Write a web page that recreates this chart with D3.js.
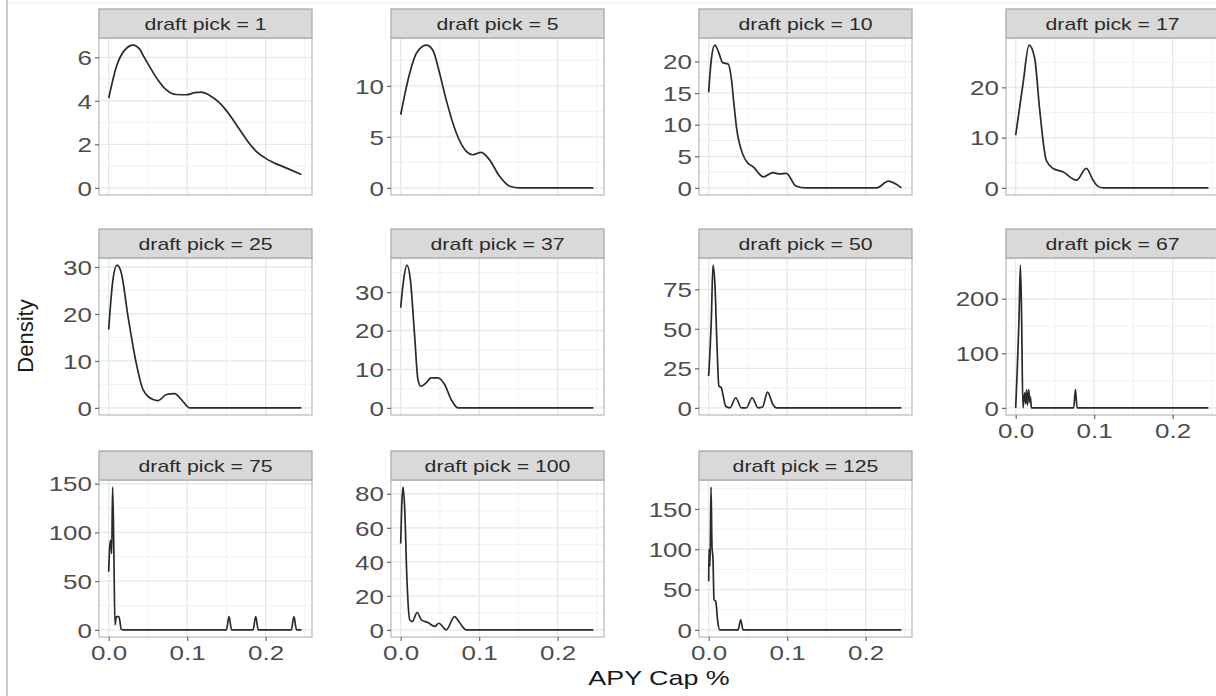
<!DOCTYPE html>
<html>
<head>
<meta charset="utf-8">
<script src="https://cdn.jsdelivr.net/npm/d3@7"></script>
<style>
  body { margin: 0; background: #fff; }
  svg { display: block; font-family: "Liberation Sans", Arial, Helvetica, sans-serif; }
</style>
</head>
<body>
<svg id="chart" width="1216" height="696"></svg>
<script>
// ---------------- DATA ----------------
const picks = [1, 5, 10, 17, 25, 37, 50, 67, 75, 100, 125];
const xTickValues = [0, 0.1, 0.2];
const xMinorValues = [0.05, 0.15, 0.25];
const xDataRange = [0, 0.2467];

const yTicks1 = [0, 2, 4, 6];
const yTicks5 = [0, 5, 10];
const yTicks10 = [0, 5, 10, 15, 20];
const yTicks17 = [0, 10, 20];
const yTicks25 = [0, 10, 20, 30];
const yTicks37 = [0, 10, 20, 30];
const yTicks50 = [0, 25, 50, 75];
const yTicks67 = [0, 100, 200];
const yTicks75 = [0, 50, 100, 150];
const yTicks100 = [0, 20, 40, 60, 80];
const yTicks125 = [0, 50, 100, 150];

// density curves: [APY cap %, density]
const pick1 = [[0,4.12],[0.0098,5.57],[0.0204,6.33],[0.031,6.56],[0.040,6.35],[0.0437,6.1],[0.0522,5.57],[0.063,4.95],[0.0735,4.50],[0.086,4.29],[0.099,4.28],[0.110,4.38],[0.118,4.40],[0.1287,4.25],[0.140,3.95],[0.150,3.55],[0.167,2.67],[0.178,2.1],[0.188,1.68],[0.199,1.38],[0.209,1.18],[0.226,0.92],[0.2455,0.61]];
const pick5 = [[0,7.17],[0.0115,11.24],[0.020,13.2],[0.0327,14.0],[0.041,13.5],[0.0496,11.24],[0.058,8.63],[0.0709,5.38],[0.0836,3.58],[0.092,3.25],[0.1025,3.48],[0.113,2.77],[0.126,1.13],[0.1389,0.16],[0.1516,0],[0.2455,0]];
const pick10 = [[0,15.15],[0.0034,20.4],[0.0077,22.6],[0.012,21.7],[0.018,19.8],[0.0247,19.6],[0.029,17.2],[0.032,13.5],[0.0353,9.7],[0.0438,5.2],[0.050,3.9],[0.0566,3.35],[0.0694,1.75],[0.082,2.4],[0.0906,2.2],[0.099,2.3],[0.111,0.3],[0.124,0],[0.214,0],[0.229,1.07],[0.2455,0]];
const pick17 = [[0,10.5],[0.0094,20.8],[0.017,28.4],[0.0242,25.8],[0.0306,15.5],[0.039,5.5],[0.0476,3.86],[0.060,3.19],[0.0774,1.53],[0.090,3.86],[0.0986,1.53],[0.104,0.4],[0.1113,0],[0.2455,0]];
const pick25 = [[0,16.7],[0.0055,27.4],[0.0106,30.4],[0.016,28.8],[0.0246,19.5],[0.035,9.6],[0.0438,3.9],[0.0565,1.77],[0.063,1.56],[0.0735,2.84],[0.084,3.05],[0.0926,1.77],[0.103,0],[0.2455,0]];
const pick37 = [[0,25.96],[0.0038,33.3],[0.008,37.0],[0.0123,33.3],[0.0178,18.6],[0.022,7.35],[0.0257,5.6],[0.032,6.4],[0.039,7.8],[0.0475,7.8],[0.056,6.05],[0.0644,2.15],[0.073,0],[0.2455,0]];
const pick50 = [[0,20.2],[0.0034,56.3],[0.0055,90.3],[0.008,77.5],[0.0106,39.3],[0.013,13.8],[0.016,12.7],[0.0217,1.0],[0.027,0],[0.0345,6.4],[0.0417,0],[0.048,0],[0.0553,6.4],[0.063,0],[0.0685,0.5],[0.075,10.0],[0.082,2],[0.0865,0],[0.2455,0]];
const pick67 = [[0,0],[0.0042,162],[0.006,261.6],[0.0076,162],[0.0092,0],[0.0115,27.5],[0.0128,8],[0.0138,33],[0.0150,5],[0.0166,33.6],[0.0180,10],[0.0187,20],[0.0200,0],[0.0739,0],[0.0761,33.6],[0.0783,0],[0.2455,0]];
const pick75 = [[0,59.6],[0.0013,85.2],[0.0025,92],[0.0038,78.4],[0.005,146.5],[0.0064,92],[0.008,5.1],[0.0098,13.6],[0.0131,13.6],[0.016,0.7],[0.019,0],[0.150,0],[0.1533,13.6],[0.1566,0],[0.1840,0],[0.1873,13.6],[0.1906,0],[0.2327,0],[0.236,13.6],[0.2393,0],[0.2455,0]];
const pick100 = [[0,50.8],[0.0013,72.4],[0.003,83.9],[0.005,72.4],[0.008,29.3],[0.0115,5.9],[0.0148,4.9],[0.021,10.2],[0.0263,5.9],[0.0347,4.3],[0.0432,2.0],[0.0487,3.9],[0.058,0],[0.0686,7.8],[0.075,4.3],[0.0835,0],[0.2455,0]];
const pick125 = [[0,60.4],[0.0004,100],[0.0017,79],[0.003,177],[0.0042,104],[0.0055,87.5],[0.0068,37.5],[0.009,35.4],[0.0115,10.4],[0.014,0],[0.0374,0],[0.0408,12.5],[0.0438,0],[0.2455,0]];

const panelCurves = [pick1, pick5, pick10, pick17, pick25, pick37, pick50, pick67, pick75, pick100, pick125];
const panelYTicks = [yTicks1, yTicks5, yTicks10, yTicks17, yTicks25, yTicks37, yTicks50, yTicks67, yTicks75, yTicks100, yTicks125];

// ---------------- LAYOUT ----------------
const colLefts = [99, 391, 699, 1006];
const rowTops = [9, 229, 451];
const panelW = 213, stripH = 29, panelH = 157;
const textStretch = 1.3;

const svg = d3.select("#chart");
svg.append("rect").attr("width", 1216).attr("height", 696).attr("fill", "#fff");
svg.append("line").attr("x1", 7).attr("x2", 1216).attr("y1", 3).attr("y2", 3)
  .attr("stroke", "#f0f0f0").attr("stroke-width", 1);
svg.append("line").attr("x1", 7).attr("x2", 7).attr("y1", 0).attr("y2", 696)
  .attr("stroke", "#b8b8b8").attr("stroke-width", 1.5);

const xr = xDataRange[1] - xDataRange[0];
const xDomain = [xDataRange[0] - 0.05 * xr, xDataRange[1] + 0.05 * xr];

picks.forEach((pick, i) => {
  const col = i % 4, row = Math.floor(i / 4);
  const left = colLefts[col];
  const stripTop = rowTops[row];
  const top = stripTop + stripH;
  const bottom = top + panelH;
  const right = left + panelW;
  const data = panelCurves[i];
  const ticks = panelYTicks[i];

  const x = d3.scaleLinear().domain(xDomain).range([left, right]);
  const ymax = d3.max(data, d => d[1]);
  const y = d3.scaleLinear().domain([-0.05 * ymax, 1.05 * ymax]).range([bottom, top]);

  const g = svg.append("g");
  g.append("rect").attr("x", left).attr("y", top).attr("width", panelW).attr("height", panelH)
    .attr("fill", "#fff");

  // minor grid
  const step = ticks[1] - ticks[0];
  const yMinor = [ticks[0] - step / 2, ...ticks.map(t => t + step / 2)]
    .filter(v => v > y.domain()[0] && v < y.domain()[1]);
  g.selectAll(".ymin").data(yMinor).join("line")
    .attr("x1", left).attr("x2", right).attr("y1", d => y(d)).attr("y2", d => y(d))
    .attr("stroke", "#f0f0f0").attr("stroke-width", 0.9);
  g.selectAll(".xmin").data(xMinorValues.filter(v => v > xDomain[0] && v < xDomain[1])).join("line")
    .attr("y1", top).attr("y2", bottom).attr("x1", d => x(d)).attr("x2", d => x(d))
    .attr("stroke", "#f0f0f0").attr("stroke-width", 0.9);
  // major grid
  g.selectAll(".ymaj").data(ticks).join("line")
    .attr("x1", left).attr("x2", right).attr("y1", d => y(d)).attr("y2", d => y(d))
    .attr("stroke", "#e8e8e8").attr("stroke-width", 1.3);
  g.selectAll(".xmaj").data(xTickValues).join("line")
    .attr("y1", top).attr("y2", bottom).attr("x1", d => x(d)).attr("x2", d => x(d))
    .attr("stroke", "#e8e8e8").attr("stroke-width", 1.3);

  // density line
  const line = d3.line().x(d => x(d[0])).y(d => y(d[1])).curve(d3.curveMonotoneX);
  g.append("path").datum(data).attr("d", line)
    .attr("fill", "none").attr("stroke", "#2a2a2a").attr("stroke-width", 1.7)
    .attr("stroke-linejoin", "round");

  // panel border
  g.append("rect").attr("x", left).attr("y", top).attr("width", panelW).attr("height", panelH)
    .attr("fill", "none").attr("stroke", "#bdbdbd").attr("stroke-width", 1.3);

  // strip
  g.append("rect").attr("x", left).attr("y", stripTop).attr("width", panelW).attr("height", stripH)
    .attr("fill", "#d9d9d9").attr("stroke", "#ababab").attr("stroke-width", 1.3);
  g.append("text")
    .attr("transform", `translate(${left + panelW / 2},${stripTop + 21}) scale(1.25,1)`)
    .attr("text-anchor", "middle").attr("font-size", 17).attr("fill", "#2a2a2a")
    .text(`draft pick = ${pick}`);

  // y axis
  const ya = svg.append("g").attr("transform", `translate(${left},0)`)
    .call(d3.axisLeft(y).tickValues(ticks).tickSize(4).tickPadding(3).tickFormat(d3.format("d")));
  ya.select(".domain").remove();
  ya.selectAll(".tick line").attr("stroke", "#666").attr("stroke-width", 1.2);
  ya.selectAll(".tick text")
    .attr("x", 0).attr("dy", "0.36em")
    .attr("transform", `translate(-7,0) scale(${textStretch},1)`)
    .attr("font-size", 20).attr("fill", "#4d4d4d").attr("font-family", null);

  // x axis for panels with no panel beneath
  if (i + 4 >= picks.length) {
    const xa = svg.append("g").attr("transform", `translate(0,${bottom})`)
      .call(d3.axisBottom(x).tickValues(xTickValues).tickSize(4).tickPadding(5).tickFormat(d3.format(".1f")));
    xa.select(".domain").remove();
    xa.selectAll(".tick line").attr("stroke", "#666").attr("stroke-width", 1.2);
    xa.selectAll(".tick text")
      .attr("transform", `scale(${textStretch},1)`)
      .attr("font-size", 20).attr("fill", "#4d4d4d").attr("font-family", null);
  }
});

// axis titles
svg.append("text")
  .attr("transform", `translate(659,685) scale(1.28,1)`)
  .attr("text-anchor", "middle").attr("font-size", 21).attr("fill", "#1a1a1a")
  .text("APY Cap %");
svg.append("text")
  .attr("transform", `translate(33,336) rotate(-90)`)
  .attr("text-anchor", "middle").attr("font-size", 22).attr("fill", "#1a1a1a")
  .text("Density");
</script>
</body>
</html>
